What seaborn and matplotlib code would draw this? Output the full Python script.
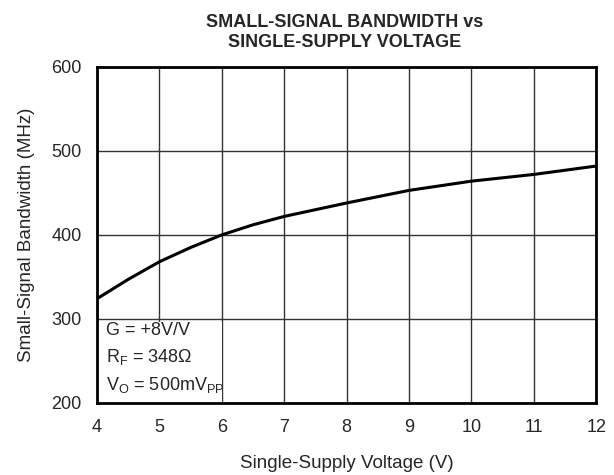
import matplotlib
matplotlib.use("Agg")
import matplotlib.pyplot as plt
import pandas as pd
import seaborn as sns
from matplotlib.patches import Rectangle

# Curve
supply_v = [4, 4.5, 5, 5.5, 6, 6.5, 7, 8, 9, 10, 11, 12]
bandwidth_mhz = [324, 347, 368, 385, 400, 412, 422, 438, 453, 464, 472, 482]

x_ticks = [4, 5, 6, 7, 8, 9, 10, 11, 12]
y_ticks = [200, 300, 400, 500, 600]

df = pd.DataFrame({"Supply": supply_v, "Bandwidth": bandwidth_mhz})

sns.set_style("white")
plt.rcParams["font.family"] = ["Liberation Sans", "DejaVu Sans"]
plt.rcParams["mathtext.fontset"] = "custom"
plt.rcParams["mathtext.rm"] = "Liberation Sans"

fig = plt.figure(figsize=(6.14, 4.75), dpi=100)
ax = fig.add_axes([0.158, 0.152, 0.813, 0.707])

sns.lineplot(x="Supply", y="Bandwidth", data=df, color="black", linewidth=2.2, ax=ax, zorder=3)

ax.set_xlim(4, 12)
ax.set_ylim(200, 600)
ax.set_xticks(x_ticks)
ax.set_yticks(y_ticks)
ax.set_axisbelow(True)
ax.grid(True, color="#333333", linewidth=1.0)

# white box behind the conditions text
ax.add_patch(Rectangle((4, 200), 2, 96, facecolor="white", edgecolor="none", zorder=1))
ax.text(4.14, 281, "G = +8V/V", fontsize=13, va="baseline", zorder=4)
ax.text(4.14, 249, "R$_\\mathregular{F}$ = 348\u03a9", fontsize=13, va="baseline", zorder=4)
ax.text(4.14, 215, "V$_\\mathregular{O}$ = 500mV$_\\mathregular{PP}$", fontsize=13, va="baseline", zorder=4)

for s in ax.spines.values():
    s.set_color("black")
    s.set_linewidth(2)
    s.set_zorder(5)

ax.tick_params(axis="both", direction="in", length=5, width=1, color="#333333",
               labelsize=13)
ax.tick_params(axis="x", pad=12)
ax.tick_params(axis="y", pad=11)
ax.set_xlabel("Single-Supply Voltage (V)", fontsize=13.5, labelpad=13)
ax.set_ylabel("Small-Signal Bandwidth (MHz)", fontsize=13.5, labelpad=12)

fig.text(0.562, 0.932, "SMALL-SIGNAL BANDWIDTH vs\nSINGLE-SUPPLY VOLTAGE",
         ha="center", va="center", fontsize=13, fontweight="bold", linespacing=1.2)

fig.savefig("out.png", dpi=100)
